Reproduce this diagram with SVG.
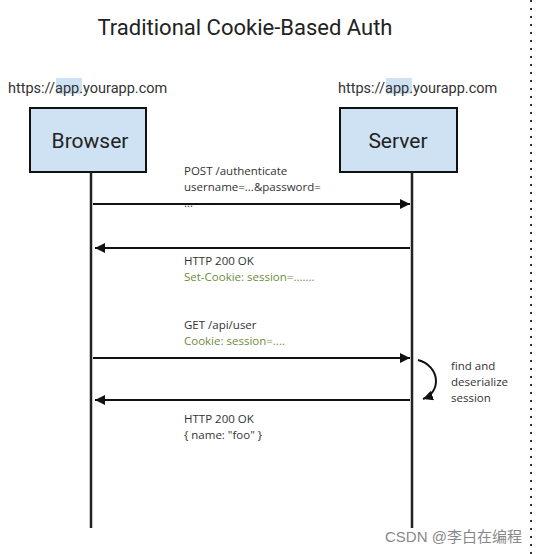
<svg xmlns="http://www.w3.org/2000/svg" width="540" height="554" viewBox="0 0 540 554">
<style>
text{font-family:Roboto,"Liberation Sans",sans-serif;}
.t{font-size:22px;fill:#222;}
.url{font-size:14.5px;fill:#333;}
.box{fill:#cfe2f3;stroke:#111;stroke-width:2;}
.lbl{font-size:21px;fill:#222;}
.msg{font-size:11.5px;fill:#333;font-family:"Open Sans","Liberation Sans",sans-serif;}
.g{font-size:11.5px;fill:#6b8e3a;font-family:"Open Sans","Liberation Sans",sans-serif;}
.line{stroke:#111;stroke-width:2;fill:none;}
.life{stroke:#222;stroke-width:2.5;}
</style>
<defs>
<marker id="ah" viewBox="0 0 10 10" refX="10" refY="5" markerWidth="5" markerHeight="5" orient="auto-start-reverse">
<path d="M0,0 L10,5 L0,10 z" fill="#111"/>
</marker>
</defs>
<rect width="540" height="554" fill="#fff"/>
<text class="t" x="245" y="35" text-anchor="middle">Traditional Cookie-Based Auth</text>
<rect x="56" y="78" width="26" height="16" fill="#cfe2f3"/>
<rect x="386" y="78" width="26" height="16" fill="#cfe2f3"/>
<text class="url" x="8" y="93">https://app.yourapp.com</text>
<text class="url" x="338" y="93">https://app.yourapp.com</text>
<g id="browser">
<rect class="box" x="30" y="108" width="116" height="64"/>
<text class="lbl" x="90" y="148" text-anchor="middle">Browser</text>
<line class="life" x1="91" y1="172" x2="91" y2="528"/>
</g>
<g id="server">
<rect class="box" x="340" y="108" width="117" height="64"/>
<text class="lbl" x="398" y="148" text-anchor="middle">Server</text>
<line class="life" x1="412" y1="172" x2="412" y2="528"/>
</g>
<g id="connectors">
<line class="line" x1="93" y1="204" x2="410" y2="204" marker-end="url(#ah)"/>
<line class="line" x1="410" y1="248" x2="95" y2="248" marker-end="url(#ah)"/>
<line class="line" x1="93" y1="358" x2="410" y2="358" marker-end="url(#ah)"/>
<line class="line" x1="410" y1="400" x2="95" y2="400" marker-end="url(#ah)"/>
<path class="line" d="M418,360 C440,366 442,392 423,399" marker-end="url(#ah)"/>
</g>
<g id="labels">
<text class="msg" x="184" y="175">POST /authenticate</text>
<text class="msg" x="184" y="191">username=...&amp;password=</text>
<text class="msg" x="184" y="207">...</text>
<text class="msg" x="184" y="265">HTTP 200 OK</text>
<text class="g" x="184" y="281">Set-Cookie: session=.......</text>
<text class="msg" x="184" y="329">GET /api/user</text>
<text class="g" x="184" y="345">Cookie: session=....</text>
<text class="msg" x="184" y="423">HTTP 200 OK</text>
<text class="msg" x="184" y="439">{  name: "foo" }</text>
<text class="msg" x="451" y="370">find and</text>
<text class="msg" x="451" y="386">deserialize</text>
<text class="msg" x="451" y="402">session</text>
</g>
<line x1="531" y1="0" x2="531" y2="554" stroke="#333" stroke-width="2" stroke-dasharray="2,6"/>
<text x="385" y="542" font-size="15" fill="#888" style="font-family:'Liberation Sans','Noto Sans CJK SC',sans-serif">CSDN @李白在编程</text>
</svg>
